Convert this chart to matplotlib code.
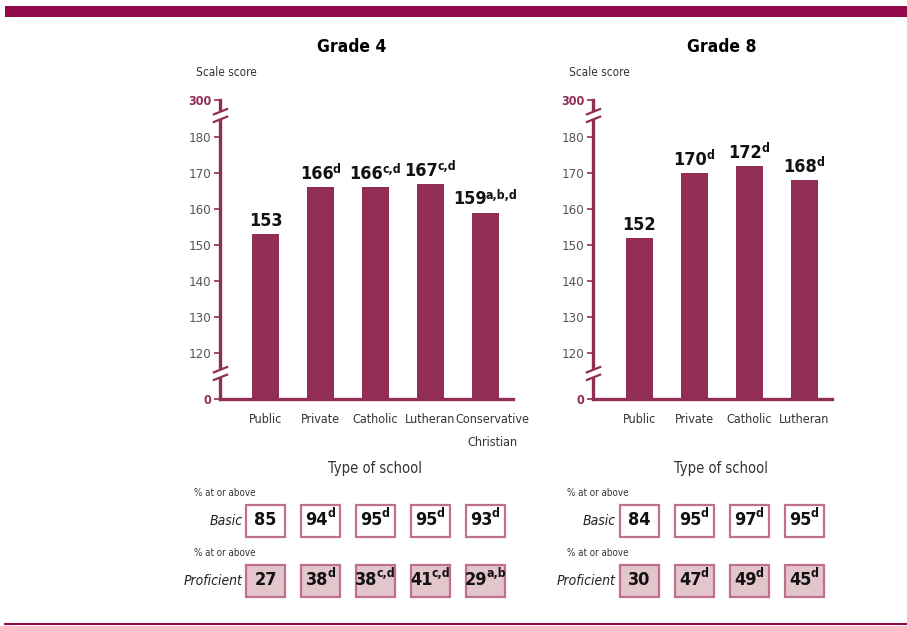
import numpy as np
import matplotlib
matplotlib.use("Agg")
import matplotlib.pyplot as plt
from matplotlib.patches import Rectangle
from matplotlib.path import Path
import matplotlib.transforms as mtransforms

plt.rcParams['font.family'] = ['DejaVu Sans']
plt.rcParams['font.stretch'] = 'condensed'

# data
g4_schools = ["Public", "Private", "Catholic", "Lutheran", "Conservative\nChristian"]
g4_scores = [153, 166, 166, 167, 159]
g4_score_sup = ["", "d", "c,d", "c,d", "a,b,d"]
g4_basic = [85, 94, 95, 95, 93]
g4_basic_sup = ["", "d", "d", "d", "d"]
g4_prof = [27, 38, 38, 41, 29]
g4_prof_sup = ["", "d", "c,d", "c,d", "a,b"]

g8_schools = ["Public", "Private", "Catholic", "Lutheran"]
g8_scores = [152, 170, 172, 168]
g8_score_sup = ["", "d", "d", "d"]
g8_basic = [84, 95, 97, 95]
g8_basic_sup = ["", "d", "d", "d"]
g8_prof = [30, 47, 49, 45]
g8_prof_sup = ["", "d", "d", "d"]

yticks = [0, 120, 130, 140, 150, 160, 170, 180, 300]

MAROON = "#922d56"
BAND = "#930a4c"
GRAY = "#555555"

W, H = 907, 626
fig = plt.figure(figsize=(W / 100, H / 100), dpi=100)

# broken axis: 0..120 and 180..300 squeezed
bp_val = [0, 120, 180, 300, 400]
bp_pix = [0, 46, 262, 299, 330]
def fwd(v):
    return np.interp(v, bp_val, bp_pix)
def inv(p):
    return np.interp(p, bp_pix, bp_val)


def px_axes(x0, x1, y0, y1):
    return fig.add_axes([x0 / W, 1 - y1 / H, (x1 - x0) / W, (y1 - y0) / H])


def sup_label(ax, x, y, main, sup, size, xycoords, va='bottom', color='#111111'):
    r = fig.canvas.get_renderer()
    t = ax.annotate(main, (x, y), xycoords=xycoords, xytext=(0, 0), textcoords='offset points',
                    ha='left', va=va, fontsize=size, fontweight='bold', color=color,
                    annotation_clip=False)
    wm = t.get_window_extent(r).width * 72 / fig.dpi
    ws = 0
    rise = size * 0.38
    if sup:
        s = ax.annotate(sup, (x, y), xycoords=xycoords, xytext=(wm, rise), textcoords='offset points',
                        ha='left', va=va, fontsize=size * 0.68, fontweight='bold', color=color,
                        annotation_clip=False)
        ws = s.get_window_extent(r).width * 72 / fig.dpi
        s.xyann = (-(wm + ws) / 2 + wm - 0.6, rise)
    t.xyann = (-(wm + ws) / 2, 0)


brk = Path([(-1, -0.9), (1, -0.1), (-1, 0.1), (1, 0.9)],
           [Path.MOVETO, Path.LINETO, Path.MOVETO, Path.LINETO])


def panel(px0, px1, xleft, title, tx, schools, scores, score_sup, basic, basic_sup, prof, prof_sup):
    ax = px_axes(px0, px1, 100, 399)
    n = len(schools)
    xs = np.arange(n)
    ax.set_yscale('function', functions=(fwd, inv))
    ax.bar(xs, scores, width=0.49, color=MAROON, zorder=2)
    ax.set_xlim(xleft, n - 0.5)
    ax.set_ylim(0, 300)
    for s in ['top', 'right']:
        ax.spines[s].set_visible(False)
    for s in ['left', 'bottom']:
        ax.spines[s].set_color(MAROON)
        ax.spines[s].set_linewidth(2.4)
    ax.set_yticks(yticks)
    ax.set_yticklabels([str(v) for v in yticks], fontsize=9.5)
    ax.yaxis.set_minor_locator(matplotlib.ticker.NullLocator())
    ax.tick_params(axis='y', length=4, width=1.2, color=MAROON, pad=2)
    for lab, v in zip(ax.get_yticklabels(), yticks):
        if v in (0, 300):
            lab.set_color(MAROON)
            lab.set_fontweight('bold')
            lab.set_fontsize(9)
        else:
            lab.set_color(GRAY)
    ax.set_xticks(xs)
    ax.set_xticklabels(schools, fontsize=9, color='#333333', linespacing=2.0, va='top')
    ax.tick_params(axis='x', length=0, pad=10)
    for lab in ax.get_xticklabels():
        if "\n" in lab.get_text():
            lab.set_transform(lab.get_transform() +
                              mtransforms.ScaledTranslation(7 / 100, 0, fig.dpi_scale_trans))

    ytr = ax.get_yaxis_transform()
    for yb in (68, 251):
        ax.plot([0], [yb], marker='s', markersize=5, color='white', mec='white',
                transform=ytr, clip_on=False, zorder=5)
        ax.plot([0], [yb], marker=brk, markersize=11, color=MAROON, mew=1.6,
                linestyle='none', transform=ytr, clip_on=False, zorder=6)

    for x, v, sp in zip(xs, scores, score_sup):
        sup_label(ax, x, v, str(v), sp, 13, 'data')
    for t in ax.texts:
        xa, ya = t.xyann
        t.xyann = (xa, ya + 3)

    fig.text(tx / W, 1 - 47 / H, title, fontsize=12.5, fontweight='bold', ha='center', va='center')
    fig.text((px0 - 24) / W, 1 - 72 / H, "Scale score", fontsize=8.5, color='#333333', ha='left', va='center')
    fig.text(((px0 + px1) / 2 + 8) / W, 1 - 468 / H, "Type of school", fontsize=10.5,
             color='#333333', ha='center', va='center')

    btr = mtransforms.blended_transform_factory(ax.transData, fig.transFigure)
    rows = [(505, 537, basic, basic_sup, 'white', "Basic", 493),
            (565, 597, prof, prof_sup, '#e3c5cc', "Proficient", 553)]
    for y0, y1, vals, sups, fc, name, ylab in rows:
        for x, v, sp in zip(xs, vals, sups):
            ax.add_patch(Rectangle((x - 0.355, 1 - y1 / H), 0.71, (y1 - y0) / H, transform=btr,
                                   facecolor=fc, edgecolor='#c0708c', linewidth=1.6, clip_on=False))
            sup_label(ax, x, 1 - (y0 + y1) / 2 / H + 0.001, str(v), sp, 13, btr, va='center')
        fig.text((px0 - 26) / W, 1 - ylab / H, "% at or above", fontsize=7, color='#333333',
                 ha='left', va='center')
        fig.text((px0 + 23) / W, 1 - (y0 + y1) / 2 / H, name, fontsize=10, style='italic',
                 color='#222222', ha='right', va='center')
    return ax


fig.add_artist(Rectangle((5 / W, 1 - 17 / H), 1, 11 / H, transform=fig.transFigure,
                         facecolor=BAND, edgecolor='none'))
fig.add_artist(plt.Line2D([5 / W, 1], [1 - 624 / H, 1 - 624 / H], transform=fig.transFigure,
                          color=BAND, linewidth=1.5))

panel(220, 513, -0.83, "Grade 4", 352, g4_schools, g4_scores, g4_score_sup,
      g4_basic, g4_basic_sup, g4_prof, g4_prof_sup)
panel(593, 832, -0.84, "Grade 8", 722, g8_schools, g8_scores, g8_score_sup,
      g8_basic, g8_basic_sup, g8_prof, g8_prof_sup)

fig.savefig("out.png", dpi=100)
